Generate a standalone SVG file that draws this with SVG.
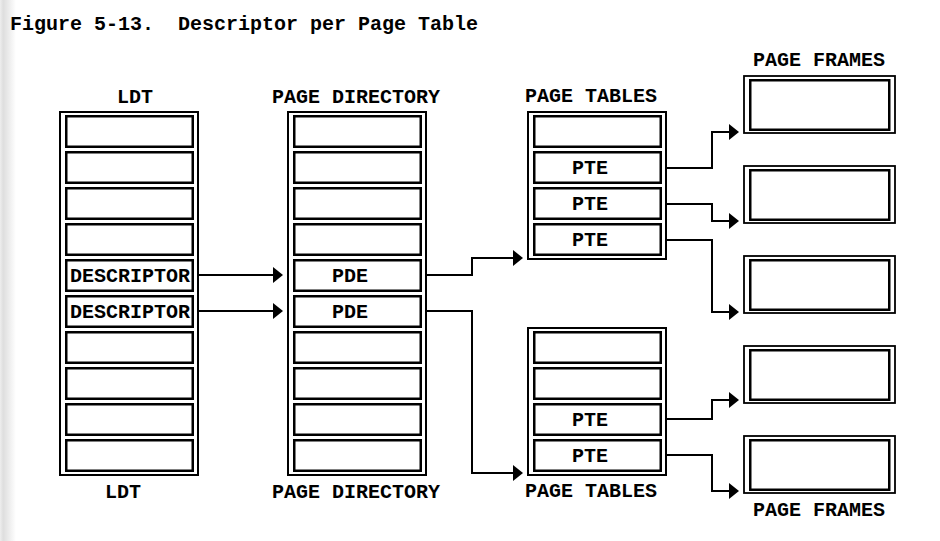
<svg xmlns="http://www.w3.org/2000/svg" width="940" height="541" viewBox="0 0 940 541">
<defs>
<linearGradient id="edge" x1="0" y1="0" x2="1" y2="0">
<stop offset="0" stop-color="#eeeeee"/>
<stop offset="0.2" stop-color="#dedede"/>
<stop offset="0.45" stop-color="#e8e8e8"/>
<stop offset="1" stop-color="#ffffff"/>
</linearGradient>
<marker id="ah" markerUnits="userSpaceOnUse" markerWidth="10" markerHeight="16" refX="5" refY="8" orient="auto" viewBox="0 0 10 16" overflow="visible">
<path d="M0,0 L10,8 L0,16 Z" fill="#000"/>
</marker>
</defs>
<style>
text{font-family:"Liberation Mono","DejaVu Sans Mono",monospace;font-weight:bold;font-size:20px;fill:#000;white-space:pre}
.outer{fill:none;stroke:#000;stroke-width:2}
.row{fill:#fff;stroke:#000;stroke-width:2.5}
.fo{fill:#fff;stroke:#000;stroke-width:1.8}
.fi{fill:none;stroke:#000;stroke-width:2.5}
.conn path{fill:none;stroke:#000;stroke-width:2;marker-end:url(#ah)}
</style>
<rect x="0" y="0" width="940" height="541" fill="#fff"/>
<rect x="0" y="0" width="16" height="541" fill="url(#edge)"/>
<text x="10" y="30" xml:space="preserve">Figure 5-13.  Descriptor per Page Table</text>

<g id="ldt">
<rect class="outer" x="60" y="112" width="138" height="363"/>
<rect class="row" x="66.25" y="116.25" width="126.5" height="30.5"/>
<rect class="row" x="66.25" y="152.25" width="126.5" height="30.5"/>
<rect class="row" x="66.25" y="188.25" width="126.5" height="30.5"/>
<rect class="row" x="66.25" y="224.25" width="126.5" height="30.5"/>
<rect class="row" x="66.25" y="260.25" width="126.5" height="30.5"/>
<rect class="row" x="66.25" y="296.25" width="126.5" height="30.5"/>
<rect class="row" x="66.25" y="332.25" width="126.5" height="30.5"/>
<rect class="row" x="66.25" y="368.25" width="126.5" height="30.5"/>
<rect class="row" x="66.25" y="404.25" width="126.5" height="30.5"/>
<rect class="row" x="66.25" y="440.25" width="126.5" height="30.5"/>
<text x="70" y="282">DESCRIPTOR</text>
<text x="70" y="318">DESCRIPTOR</text>
<text x="117" y="103">LDT</text>
<text x="105" y="498">LDT</text>
</g>

<g id="page-directory">
<rect class="outer" x="288" y="112" width="138" height="363"/>
<rect class="row" x="294.25" y="116.25" width="126.5" height="30.5"/>
<rect class="row" x="294.25" y="152.25" width="126.5" height="30.5"/>
<rect class="row" x="294.25" y="188.25" width="126.5" height="30.5"/>
<rect class="row" x="294.25" y="224.25" width="126.5" height="30.5"/>
<rect class="row" x="294.25" y="260.25" width="126.5" height="30.5"/>
<rect class="row" x="294.25" y="296.25" width="126.5" height="30.5"/>
<rect class="row" x="294.25" y="332.25" width="126.5" height="30.5"/>
<rect class="row" x="294.25" y="368.25" width="126.5" height="30.5"/>
<rect class="row" x="294.25" y="404.25" width="126.5" height="30.5"/>
<rect class="row" x="294.25" y="440.25" width="126.5" height="30.5"/>
<text x="332" y="282">PDE</text>
<text x="332" y="318">PDE</text>
<text x="272" y="103">PAGE DIRECTORY</text>
<text x="272" y="498">PAGE DIRECTORY</text>
</g>

<g id="page-table-1">
<rect class="outer" x="528" y="112" width="138" height="147"/>
<rect class="row" x="534.25" y="116.25" width="126.5" height="30.5"/>
<rect class="row" x="534.25" y="152.25" width="126.5" height="30.5"/>
<rect class="row" x="534.25" y="188.25" width="126.5" height="30.5"/>
<rect class="row" x="534.25" y="224.25" width="126.5" height="30.5"/>
<text x="572" y="174">PTE</text>
<text x="572" y="210">PTE</text>
<text x="572" y="246">PTE</text>
<text x="525" y="102">PAGE TABLES</text>
</g>

<g id="page-table-2">
<rect class="outer" x="528" y="328" width="138" height="147"/>
<rect class="row" x="534.25" y="332.25" width="126.5" height="30.5"/>
<rect class="row" x="534.25" y="368.25" width="126.5" height="30.5"/>
<rect class="row" x="534.25" y="404.25" width="126.5" height="30.5"/>
<rect class="row" x="534.25" y="440.25" width="126.5" height="30.5"/>
<text x="572" y="426">PTE</text>
<text x="572" y="462">PTE</text>
<text x="525" y="497">PAGE TABLES</text>
</g>

<g id="page-frame-1">
<rect class="fo" x="744" y="76" width="151" height="57"/>
<rect class="fi" x="750.25" y="80.25" width="139" height="49.5"/>
<text x="753" y="66">PAGE FRAMES</text>
</g>
<g id="page-frame-2">
<rect class="fo" x="744" y="166" width="151" height="57"/>
<rect class="fi" x="750.25" y="170.25" width="139" height="49.5"/>
</g>
<g id="page-frame-3">
<rect class="fo" x="744" y="256" width="151" height="57"/>
<rect class="fi" x="750.25" y="260.25" width="139" height="49.5"/>
</g>
<g id="page-frame-4">
<rect class="fo" x="744" y="346" width="151" height="57"/>
<rect class="fi" x="750.25" y="350.25" width="139" height="49.5"/>
</g>
<g id="page-frame-5">
<rect class="fo" x="744" y="436" width="151" height="57"/>
<rect class="fi" x="750.25" y="440.25" width="139" height="49.5"/>
<text x="753" y="516">PAGE FRAMES</text>
</g>

<g id="connectors" class="conn">
<path d="M199,275 H278"/>
<path d="M199,311 H278"/>
<path d="M427,275 H472 V258 H518"/>
<path d="M427,311 H472 V473 H518"/>
<path d="M667,168 H712 V132 H734"/>
<path d="M667,204 H712 V221 H734"/>
<path d="M667,240 H712 V312 H734"/>
<path d="M667,419 H712 V400 H734"/>
<path d="M667,455 H712 V491 H734"/>
</g>
</svg>
